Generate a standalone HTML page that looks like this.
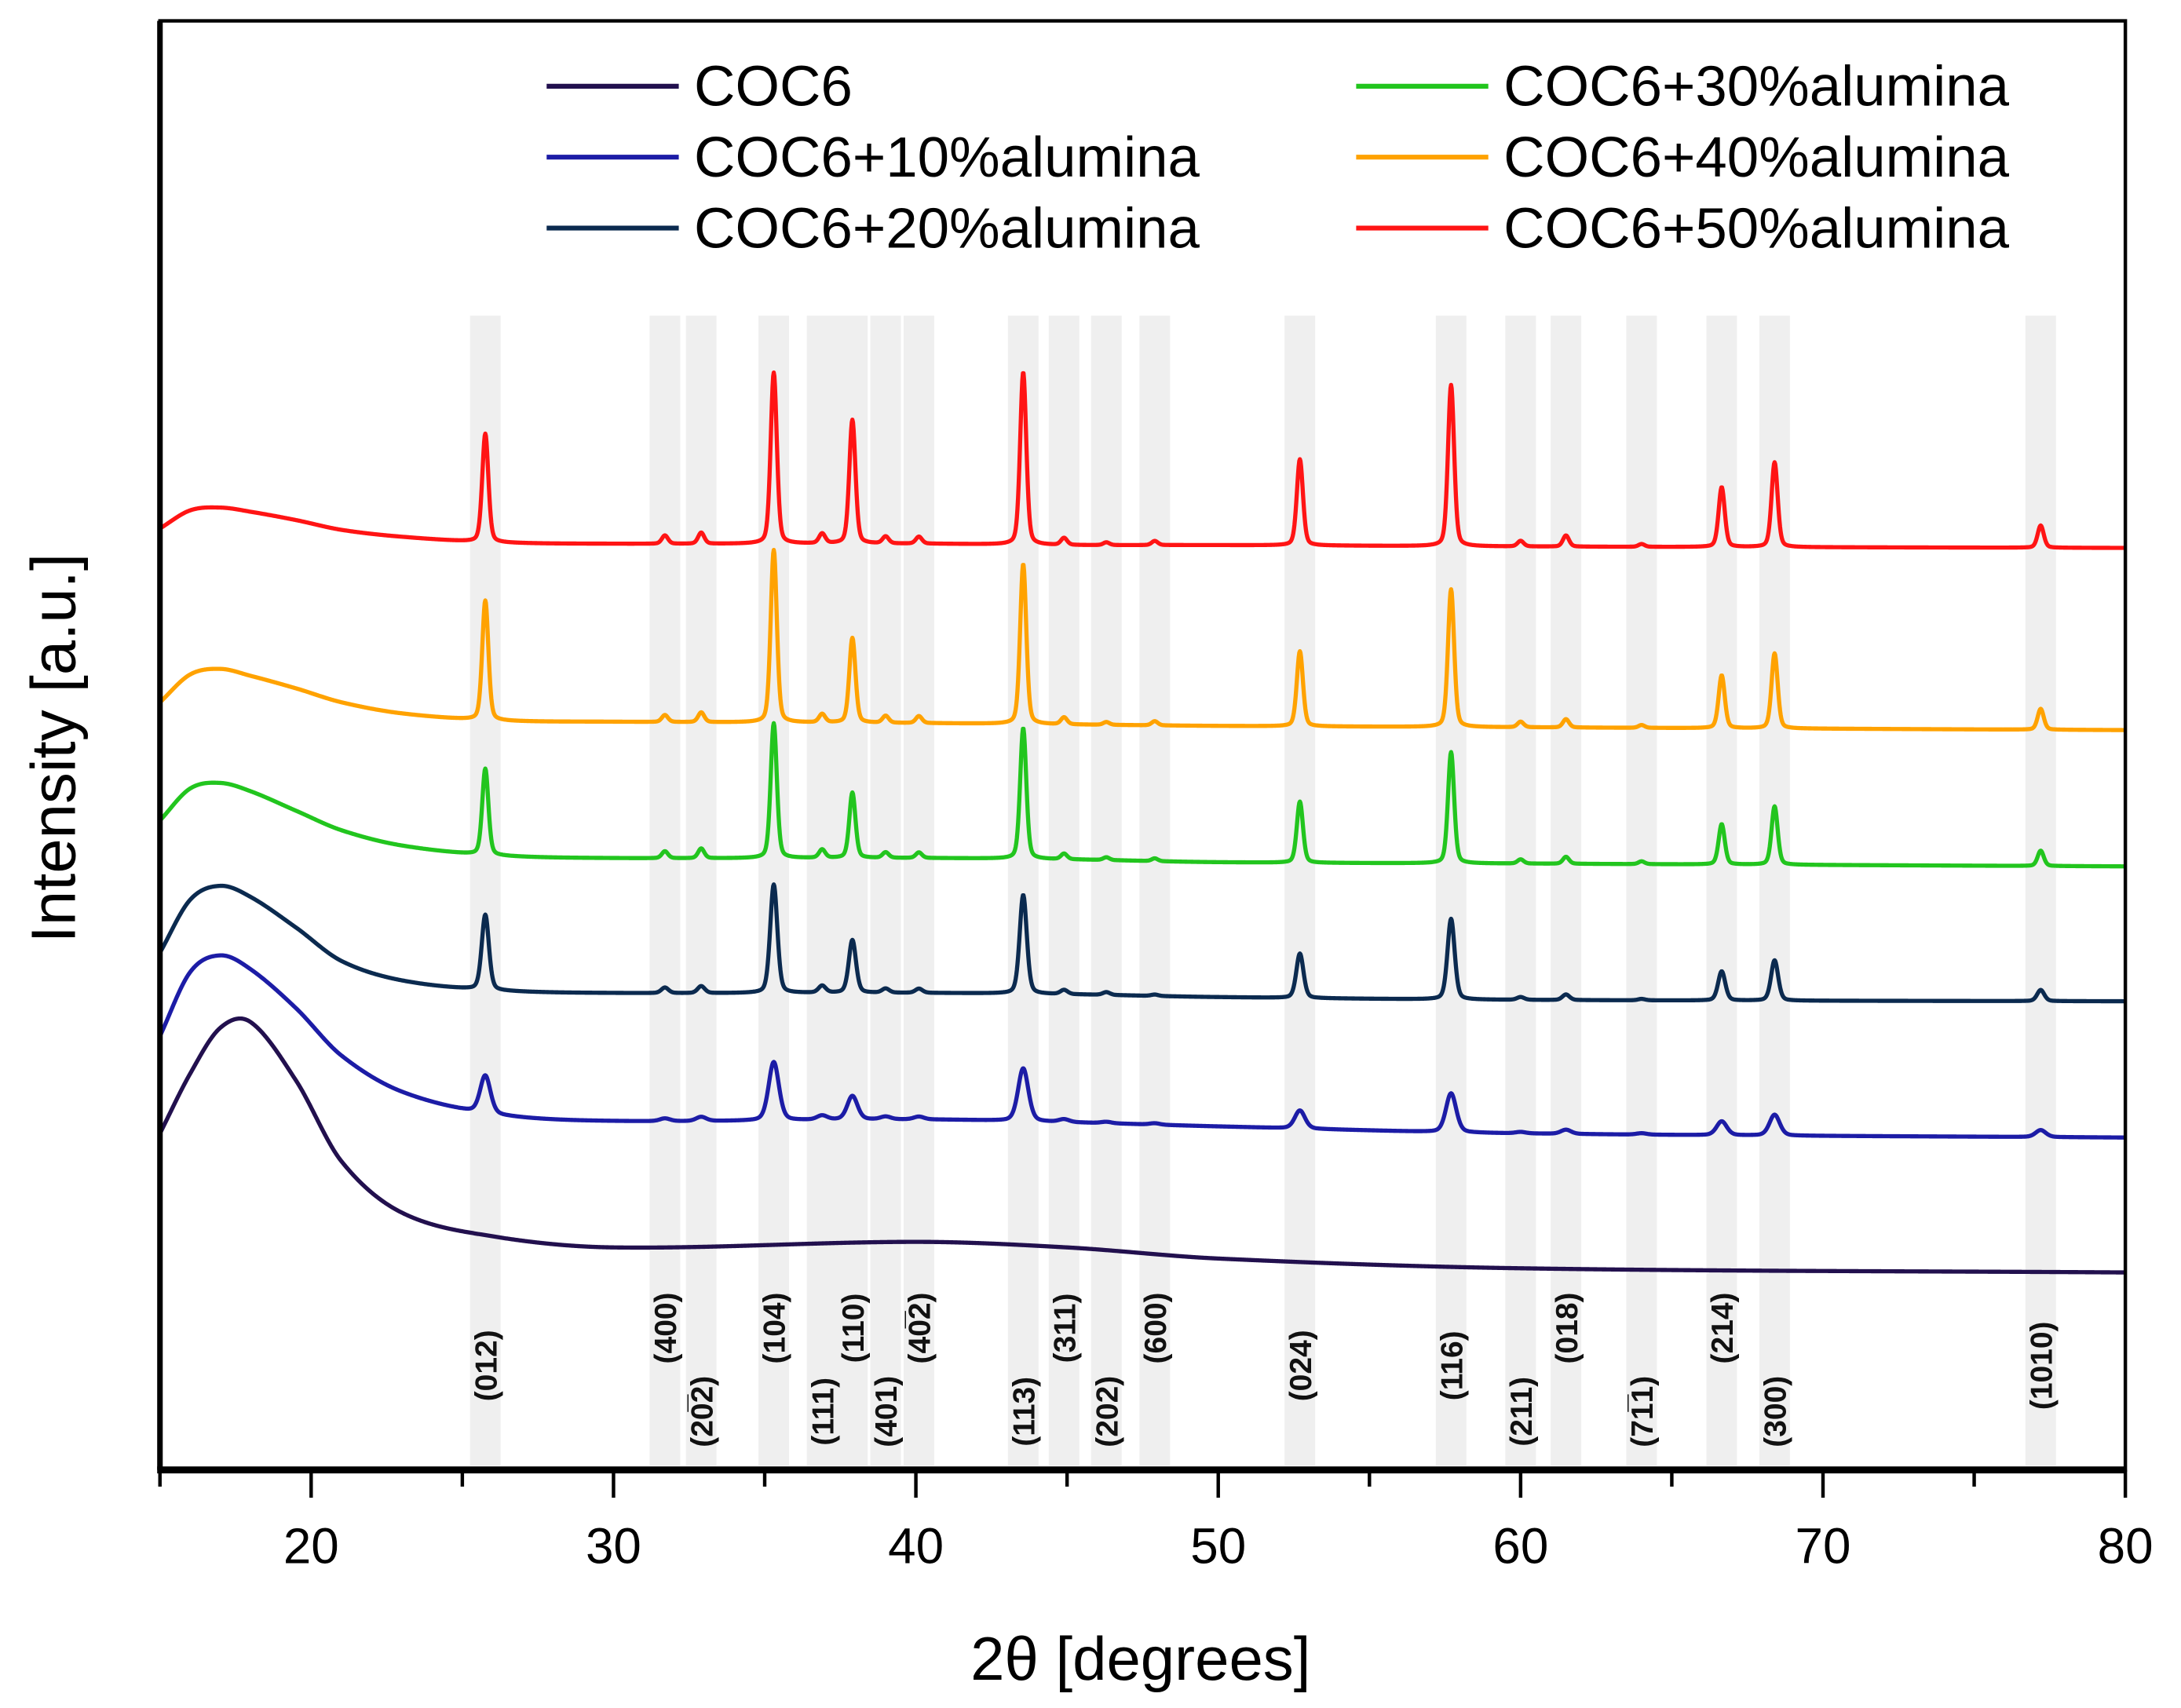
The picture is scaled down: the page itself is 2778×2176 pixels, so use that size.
<!DOCTYPE html>
<html><head><meta charset="utf-8"><style>
html,body{margin:0;padding:0;background:#fff;}
svg{display:block;}
text{font-family:"Liberation Sans",Arial,sans-serif;}
</style></head><body>
<svg id="chart" width="2778" height="2176" viewBox="0 0 1568 1228.2" preserveAspectRatio="none" xmlns="http://www.w3.org/2000/svg">
<g id="bands"></g>
<g id="hkl"></g>
<g id="curves"></g>
<g id="axes"></g>
<g id="legend"></g>
</svg>
<script>
// ---- data ----
const xMin = 15, xMax = 80;
const xTicks = [20, 30, 40, 50, 60, 70, 80];
const xMinorTicks = [15, 25, 35, 45, 55, 65, 75];
const seriesNames = ["COC6", "COC6+10%alumina", "COC6+20%alumina", "COC6+30%alumina", "COC6+40%alumina", "COC6+50%alumina"];
const seriesColors = ["#22104e", "#1c1ca6", "#0b2a4f", "#22c51e", "#ffa200", "#ff1414"];
// background control points (2θ) and intensities (a.u.)
const bgX = [15, 16, 17, 18, 19.5, 21, 23, 26, 30, 40, 45, 50, 60, 80];
const bgCOC6 = [242, 285, 318, 322, 280, 222, 185, 168, 160, 164, 160, 152, 145, 142];
const bg10 = [312, 358, 370, 360, 332, 298, 272, 256, 251, 252, 250, 247, 242, 239];
const bg20 = [372, 410, 420, 412, 390, 366, 352, 345, 343, 343, 342, 340, 338, 337];
const bg30 = [467, 490, 494, 488, 474, 460, 449, 442, 440, 440, 439, 437, 436, 434];
const bg40 = [552, 572, 576, 571, 562, 552, 544, 539, 538, 537, 536, 535, 534, 532];
const bg50 = [677, 690, 692, 689, 683, 676, 671, 667, 666, 666, 665, 665, 664, 663];
// reflections
const peakPos = [25.76, 31.7, 32.9, 35.3, 36.9, 37.9, 39.0, 40.1, 43.55, 44.9, 46.3, 47.9, 52.7, 57.7, 60.0, 61.5, 64.0, 66.65, 68.4, 77.2];
const hklLabels = ["(012)", "(400)", "(20\u03052)", "(104)", "(111)", "(110)", "(401)", "(40\u03052)", "(113)", "(311)", "(202)", "(600)", "(024)", "(116)", "(211)", "(018)", "(71\u03051)", "(214)", "(300)", "(1010)"];
const hklRow = [1, 0, 2, 0, 2, 0, 2, 0, 2, 0, 2, 0, 1, 1, 2, 0, 2, 0, 2, 1];
const pkCOC6 = [0,0,0,0,0,0,0,0,0,0,0,0,0,0,0,0,0,0,0,0];
const pk10 = [27, 2, 3, 42, 3, 17, 2, 2, 38, 2, 1, 1, 13, 28, 1, 3, 1, 10, 15, 5];
const pk20 = [54, 4, 5, 78, 5, 38, 3, 3, 71, 3, 2, 1, 32, 58, 2, 4, 1, 21, 29, 8];
const pk30 = [62, 5, 7, 97, 6, 47, 4, 4, 94, 4, 2, 2, 44, 80, 3, 5, 2, 29, 42, 11];
const pk40 = [86, 5, 7, 124, 6, 61, 5, 5, 115, 5, 2, 3, 54, 99, 4, 6, 2, 38, 54, 15];
const pk50 = [78, 6, 8, 123, 7, 89, 5, 5, 124, 5, 2, 3, 62, 116, 4, 8, 2, 43, 61, 16];
const peakWidth = [0.15, 0.2, 0.14, 0.12, 0.12, 0.12]; // HWHM in degrees

// ---- layout ----
const L = 115, R = 1528, T = 15, B = 1057;
const NS = "http://www.w3.org/2000/svg";
const xs = v => L + (v - xMin) / (xMax - xMin) * (R - L);
const ys = v => B - v;
function mk(tag, attrs, parent) {
  const e = document.createElementNS(NS, tag);
  for (const k in attrs) e.setAttribute(k, attrs[k]);
  parent.appendChild(e); return e;
}
const gB = document.getElementById('bands'), gH = document.getElementById('hkl'),
      gC = document.getElementById('curves'), gA = document.getElementById('axes'),
      gL = document.getElementById('legend');

peakPos.forEach((p, i) => {
  const r = mk('rect', {x: xs(p) - 11, y: 227, width: 22, height: B - 230, fill: '#efefef'}, gB);
  
  
});
const rowY = [955, 982, 1015];
peakPos.forEach((p, i) => {
  const x = xs(p) + 8, y = rowY[hklRow[i]];
  const t = mk('text', {x: 0, y: 0, transform: `translate(${x},${y}) rotate(-90)`, 'text-anchor': 'middle', 'font-size': 22, 'font-weight': 'bold', fill: '#111'}, gH);
  t.textContent = hklLabels[i];
  
  
});

// cubic Hermite background with centred finite-difference tangents
function slopes(arr) {
  const n = bgX.length, m = [];
  m[0] = (arr[1] - arr[0]) / (bgX[1] - bgX[0]);
  m[n - 1] = (arr[n - 1] - arr[n - 2]) / (bgX[n - 1] - bgX[n - 2]);
  for (let k = 1; k < n - 1; k++) m[k] = (arr[k + 1] - arr[k - 1]) / (bgX[k + 1] - bgX[k - 1]);
  return m;
}
function bgAt(arr, m, x) {
  let k = 0;
  while (k < bgX.length - 2 && x > bgX[k + 1]) k++;
  const h = bgX[k + 1] - bgX[k], t = (x - bgX[k]) / h;
  const t2 = t * t, t3 = t2 * t;
  return (2 * t3 - 3 * t2 + 1) * arr[k] + (t3 - 2 * t2 + t) * h * m[k] + (-2 * t3 + 3 * t2) * arr[k + 1] + (t3 - t2) * h * m[k + 1];
}
const bgs = [bgCOC6, bg10, bg20, bg30, bg40, bg50];
const pks = [pkCOC6, pk10, pk20, pk30, pk40, pk50];
for (let s = 0; s < 6; s++) {
  let d = '';
  const w = peakWidth[s];
  const m = slopes(bgs[s]);
  for (let x = xMin; x <= xMax + 1e-9; x += 0.02) {
    let v = bgAt(bgs[s], m, x);
    for (let i = 0; i < peakPos.length; i++) {
      const u = (x - peakPos[i]) / w;
      v += pks[s][i] * (0.7 * Math.exp(-0.693 * u * u) + 0.3 / (1 + u * u));
    }
    d += (d ? 'L' : 'M') + xs(x).toFixed(2) + ',' + ys(v).toFixed(2);
  }
  const path = mk('path', {d, fill: 'none', stroke: seriesColors[s], 'stroke-width': 3, 'stroke-linejoin': 'round'}, gC);
  
  
}

// axes
const frame = mk('rect', {x: L, y: T, width: R - L, height: B - T, fill: 'none', stroke: '#000', 'stroke-width': 2.5}, gA);


const xl = mk('line', {x1: L - 2, y1: B, x2: R + 1, y2: B, stroke: '#000', 'stroke-width': 5}, gA);


const yl = mk('line', {x1: L, y1: T, x2: L, y2: B, stroke: '#000', 'stroke-width': 4}, gA);


xTicks.forEach(v => {
  const tk = mk('line', {x1: xs(v), y1: B, x2: xs(v), y2: B + 20, stroke: '#000', 'stroke-width': 2.5}, gA);
  
  
  const lb = mk('text', {x: xs(v), y: 1124, 'text-anchor': 'middle', 'font-size': 36, fill: '#000'}, gA);
  lb.textContent = v;
  
  
});
xMinorTicks.forEach(v => {
  const tk = mk('line', {x1: xs(v), y1: B, x2: xs(v), y2: B + 12, stroke: '#000', 'stroke-width': 2.5}, gA);
  
  
});
const xt = mk('text', {x: 820, y: 1208, 'text-anchor': 'middle', 'font-size': 44, fill: '#000'}, gA);
xt.textContent = '2\u03b8 [degrees]';


const yt = mk('text', {x: 0, y: 0, transform: 'translate(54,538) rotate(-90)', 'text-anchor': 'middle', 'font-size': 45, fill: '#000'}, gA);
yt.textContent = 'Intensity [a.u.]';



// legend
const legPos = [[393, 62], [393, 113], [393, 164], [975, 62], [975, 113], [975, 164]];
for (let s = 0; s < 6; s++) {
  const [lx, ly] = legPos[s];
  const g = mk('g', {}, gL);
  
  
  mk('line', {x1: lx, y1: ly, x2: lx + 95, y2: ly, stroke: seriesColors[s], 'stroke-width': 3.5}, g);
  const t = mk('text', {x: lx + 106, y: ly + 14, 'font-size': 41, fill: '#000'}, g);
  t.textContent = seriesNames[s];
}
</script>
</body></html>
